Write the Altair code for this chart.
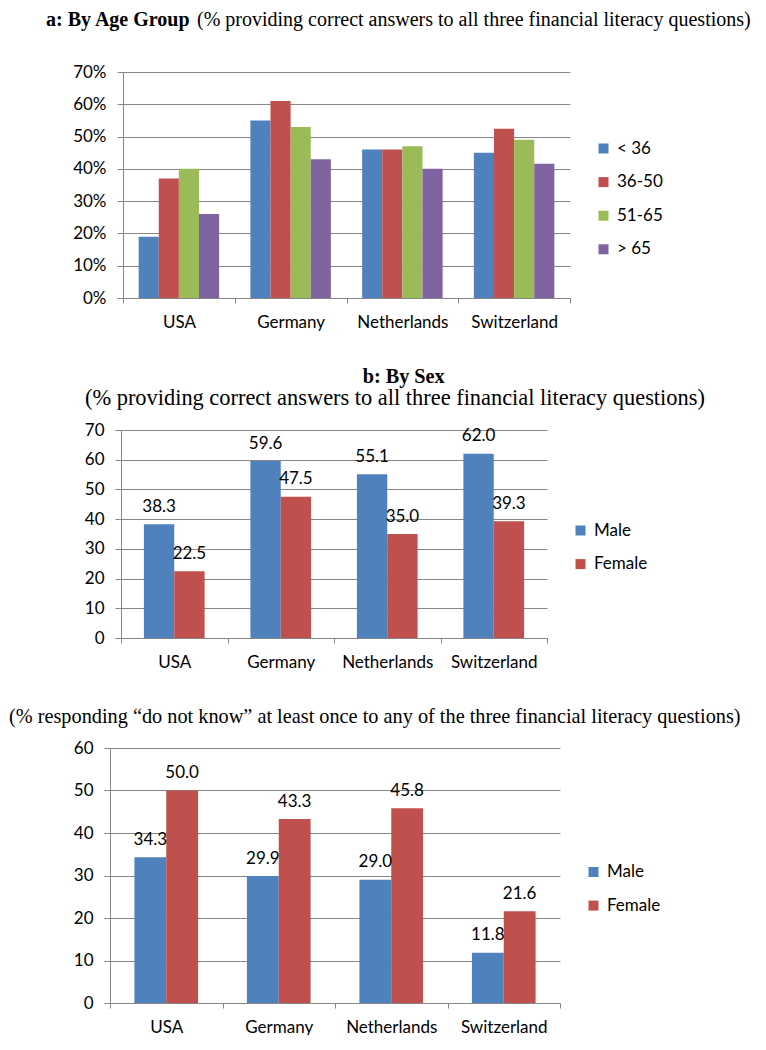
import altair as alt
import pandas as pd

# ---------------- data ----------------
countries = ["USA", "Germany", "Netherlands", "Switzerland"]

age_groups = ["< 36", "36-50", "51-65", "> 65"]
age_lt36 = [19.0, 55.0, 46.0, 45.0]
age_36_50 = [37.0, 61.0, 46.0, 52.4]
age_51_65 = [40.0, 53.0, 47.0, 49.0]
age_gt65 = [26.0, 43.0, 40.0, 41.6]
age_colors = ["#4F81BD", "#C0504D", "#9BBB59", "#8064A2"]

sexes = ["Male", "Female"]
correct_male = [38.3, 59.6, 55.1, 62.0]
correct_female = [22.5, 47.5, 35.0, 39.3]
dk_male = [34.3, 29.9, 29.0, 11.8]
dk_female = [50.0, 43.3, 45.8, 21.6]
sex_colors = ["#4F81BD", "#C0504D"]

ticks_a = [0, 10, 20, 30, 40, 50, 60, 70]
ticks_b = [0, 10, 20, 30, 40, 50, 60, 70]
ticks_c = [0, 10, 20, 30, 40, 50, 60]

title_a_bold = "a: By Age Group"
title_a_rest = "(% providing correct answers to all three financial literacy questions)"
title_b = "b: By Sex"
subtitle_b = "(% providing correct answers to all three financial literacy questions)"
subtitle_c = "(% responding \u201cdo not know\u201d at least once to any of the three financial literacy questions)"

# ---------------- style ----------------
SANS = "Lato"
SERIF = "Liberation Serif"
LS = 17
GRID = "#868686"


def long_df(series_names, series_values, field):
    rows = []
    for name, vals in zip(series_names, series_values):
        for c, v in zip(countries, vals):
            rows.append({"country": c, field: name, "value": v})
    return pd.DataFrame(rows)


df_a = long_df(age_groups, [age_lt36, age_36_50, age_51_65, age_gt65], "age")
df_b = long_df(sexes, [correct_male, correct_female], "sexb")
df_c = long_df(sexes, [dk_male, dk_female], "sexc")


def text_layer(txt, x, y, size, bold=False):
    return alt.Chart(pd.DataFrame({"t": [txt]})).mark_text(
        align="left", baseline="alphabetic", font=SERIF, fontSize=size,
        fontWeight="bold" if bold else "normal", color="#000000"
    ).encode(x=alt.value(x), y=alt.value(y), text="t:N")


def panel(df, field, order, colors, ymax, ticks, pad_outer, w, h,
          lx, ly, label_expr=None, values=False, texts=()):
    x = alt.X("country:N", sort=countries, title=None,
              scale=alt.Scale(domain=countries, paddingInner=0, paddingOuter=0),
              axis=alt.Axis(labelFont=SANS, labelFontSize=LS, labelColor="#000000",
                            labelAngle=0, labelPadding=11, tickSize=5,
                            tickColor=GRID, domainColor=GRID, tickBand="extent",
                            grid=False))
    xo = alt.XOffset(f"{field}:N", sort=order,
                     scale=alt.Scale(domain=order, paddingInner=0, paddingOuter=pad_outer))
    yaxis_kw = dict(values=ticks, tickSize=6, tickColor=GRID, domainColor=GRID,
                    grid=True, gridColor=GRID, labelPadding=11, labelFont=SANS,
                    labelFontSize=LS, labelColor="#000000", minExtent=45)
    if label_expr:
        yaxis_kw["labelExpr"] = label_expr
    y = alt.Y("value:Q", title=None,
              scale=alt.Scale(domain=[0, ymax], nice=False, zero=True),
              axis=alt.Axis(**yaxis_kw))
    color = alt.Color(f"{field}:N", sort=order,
                      scale=alt.Scale(domain=order, range=colors),
                      legend=alt.Legend(orient="none", legendX=lx, legendY=ly, title=None,
                                        symbolType="square", symbolSize=100,
                                        symbolStrokeWidth=0, labelFont=SANS,
                                        labelFontSize=LS, labelColor="#000000",
                                        rowPadding=15.6, labelOffset=5, padding=0,
                                        direction="vertical"))
    base = alt.Chart(df)
    layers = [base.mark_bar().encode(x=x, xOffset=xo, y=y, color=color)]
    if values:
        layers.append(base.mark_text(dy=-12.4, baseline="alphabetic", font=SANS,
                                     fontSize=LS, color="#000000").encode(
            x=x, xOffset=xo, y=y, text=alt.Text("value:Q", format=".1f")))
    layers.extend(texts)
    return alt.layer(*layers).properties(width=w, height=h)


def spacer(w):
    return alt.Chart(pd.DataFrame({"a": [0]})).mark_text(fontSize=1).encode(
        x=alt.value(0), y=alt.value(0), text=alt.value("")
    ).properties(width=w, height=1)


pa = panel(df_a, "age", age_groups, age_colors, 70, ticks_a, 0.778, 447, 226,
           472, 68, label_expr="datum.value + '%'",
           texts=[text_layer(title_a_bold, -77, -46, 20, bold=True),
                  text_layer(title_a_rest, 74, -46, 20)])
pb = panel(df_b, "sexb", sexes, sex_colors, 70, ticks_b, 0.754, 426, 208,
           451, 92, values=True,
           texts=[text_layer(title_b, 241.7, -47.2, 20.2, bold=True),
                  text_layer(subtitle_b, -36, -25.4, 22.4)])
pc = panel(df_c, "sexc", sexes, sex_colors, 60, ticks_c, 0.767, 450, 255,
           475, 115.5, values=True,
           texts=[text_layer(subtitle_c, -101, -25.5, 20.3)])

res = dict(color="independent", x="independent", y="independent", xOffset="independent")
row_a = alt.hconcat(spacer(38), pa, spacing=0).resolve_scale(**res)
row_b = alt.hconcat(spacer(68), pb, spacing=0).resolve_scale(**res)
row_c = alt.hconcat(spacer(1), pc, spacing=0).resolve_scale(**res)

chart = alt.vconcat(row_a, row_b, row_c, spacing=36).resolve_scale(**res).properties(
    padding={"left": 0, "top": 2, "right": 0, "bottom": 0}
).configure_view(stroke=None)

chart.save("out.html", embed_options={"renderer": "svg", "actions": False})
